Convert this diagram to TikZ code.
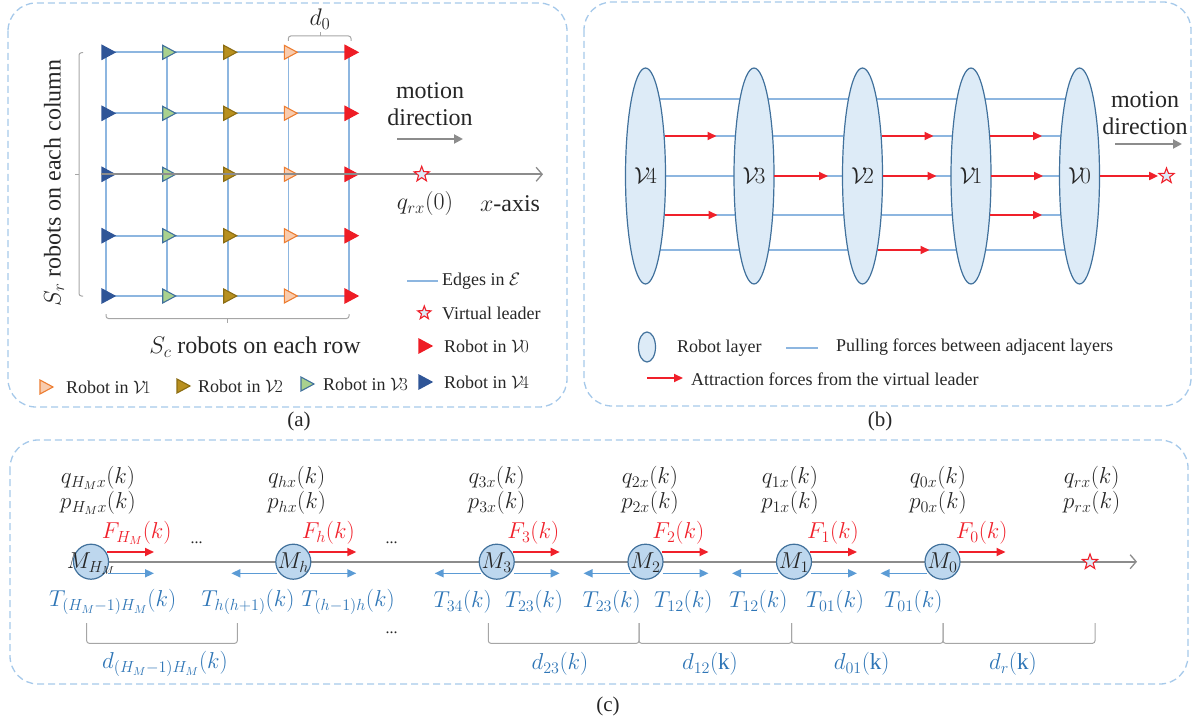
\RequirePackage{fix-cm}
\documentclass[tikz,border=0pt]{standalone}
\usepackage{fontspec}
\setmainfont{Liberation Serif}
\usetikzlibrary{shapes.geometric,arrows.meta,calc,backgrounds}
\definecolor{frame}{HTML}{A6C9EA}
\definecolor{edgec}{HTML}{8DB6E0}
\definecolor{layerfill}{HTML}{DDEBF7}
\definecolor{layerdraw}{HTML}{41719C}
\definecolor{circfill}{HTML}{BDD7EE}
\definecolor{tblue}{HTML}{2E75B6}
\definecolor{tarrow}{HTML}{5B9BD5}
\definecolor{fred}{HTML}{F0202A}
\definecolor{axisgray}{HTML}{8C8C8C}
\definecolor{brkgray}{HTML}{A6A6A6}
\definecolor{txt}{HTML}{262626}
\definecolor{czero}{HTML}{EE1C25}
\definecolor{conef}{HTML}{F8CBAD}
\definecolor{coned}{HTML}{ED7D31}
\definecolor{ctwof}{HTML}{B8901F}
\definecolor{ctwod}{HTML}{8C6D12}
\definecolor{cthreef}{HTML}{A9D18E}
\definecolor{cfour}{HTML}{2F5597}
\begin{document}
\begin{tikzpicture}[x=1pt,y=-1pt,
  panelbox/.style={draw=frame, line width=1.3pt, dash pattern=on 7pt off 4pt, rounded corners=28pt},
  gridedge/.style={draw=edgec, line width=1.6pt},
  bigtext/.style={font=\fontsize{24}{27}\selectfont, text=txt, inner sep=0pt},
  legtext/.style={font=\fontsize{18}{21}\selectfont, text=txt, anchor=west, inner sep=0pt},
  lbl/.style={font=\fontsize{23}{26}\selectfont, text=txt, inner sep=0pt},
  flbl/.style={font=\fontsize{23}{26}\selectfont, text=fred, inner sep=0pt},
  tlbl/.style={font=\fontsize{23}{26}\selectfont, text=tblue, inner sep=0pt},
  subcap/.style={font=\fontsize{21}{24}\selectfont, text=txt, inner sep=0pt},
  brk/.style={draw=brkgray, line width=1pt, rounded corners=2.5pt},
  axisline/.style={draw=axisgray, line width=1.6pt, -{Straight Barb[length=6pt,width=14pt,line width=1.3pt]}},
  mdarrow/.style={draw=axisgray, line width=2pt, -{Triangle[length=9pt,width=9pt]}},
  redarrow/.style={draw=fred, line width=1.8pt, -{Triangle[length=9pt,width=8pt]}},
  bluearrow/.style={draw=tarrow, line width=1.6pt, -{Triangle[length=9pt,width=8pt]}},
  layer/.style={ellipse, draw=layerdraw, fill=layerfill, line width=1.2pt, minimum width=40pt, minimum height=216pt, inner sep=0pt, font=\fontsize{23}{25}\selectfont, text=txt},
  vleader/.style={star, star points=5, star point ratio=2.4, minimum size=16pt, inner sep=0pt, draw=fred, fill=layerfill, line width=1.1pt},
  mass/.style={circle, draw=layerdraw, fill=circfill, line width=1.2pt, minimum size=35pt, inner sep=0pt},
  tzero/.style={fill=czero, draw=czero},
  tone/.style={fill=conef, draw=coned},
  ttwo/.style={fill=ctwof, draw=ctwod},
  tthree/.style={fill=cthreef, draw=layerdraw},
  tfour/.style={fill=cfour, draw=cfour},
  tri/.pic={\path[pic actions, line width=1.1pt, line join=miter] (-4,-7) -- (9,0) -- (-4,7) -- cycle;}
]
\useasboundingbox (0,0) rectangle (1196,722);

% ---------- panels ----------
\draw[panelbox] (8,3) rectangle (567,407);
\draw[panelbox] (584,2) rectangle (1191,406);
\draw[panelbox] (10,440) rectangle (1188,684);
\node[subcap] (capa) at (299,421) {(a)};
\node[subcap] (capb) at (880,421) {(b)};
\node[subcap] (capc) at (608,706) {(c)};

% ---------- panel (a) ----------
\foreach \x [count=\i] in {106,166.7,227.7,288.3,349} {
  \foreach \y [count=\j] in {52.3,113.3,174.3,235.7,296} {
    \coordinate (g\i\j) at (\x,\y);
  }
}
\foreach \j in {1,...,5} { \draw[gridedge] (g1\j) -- (g5\j); }
\foreach \i in {1,...,5} { \draw[gridedge] (g\i1) -- (g\i5); }
\foreach \j in {1,...,5} {
  \pic[tfour] at (g1\j) {tri};
  \pic[tthree] at (g2\j) {tri};
  \pic[ttwo] at (g3\j) {tri};
  \pic[tone] at (g4\j) {tri};
  \pic[tzero] at (g5\j) {tri};
}
\coordinate (axs) at (101,174.3);
\coordinate (axe) at (543,174.3);
\draw[axisline] (axs) -- (axe);
\node[vleader] (ldra) at (421.7,174.3) {};
\node[bigtext] (qrx) at (425,204) {$q_{rx}(0)$};
\node[bigtext] (xax) at (510,204) {$x$-axis};
\node[bigtext, align=center] (mda) at (430,104) {motion\\direction};
\coordinate (mdas) at (397,139);
\coordinate (mdae) at (463,139);
\draw[mdarrow] (mdas) -- (mdae);

% brackets (a)
\draw[brk] (288.3,41) -- (288.3,36) -- (351,36) -- (351,41);
\draw[brk] (320,36) -- (320,32);
\node[bigtext] (dz) at (320,19) {$d_0$};
\draw[brk] (83,52.7) -- (79,52.7) -- (79,296) -- (83,296);
\draw[brk] (79,174.3) -- (75,174.3);
\node[bigtext, rotate=90] (sr) at (54,183) {$S_r$ robots on each column};
\draw[brk] (106,314) -- (106,318.5) -- (349,318.5) -- (349,314);
\draw[brk] (227.7,318.5) -- (227.7,323);
\node[bigtext] (sc) at (255,347) {$S_c$ robots on each row};

% legend (a)
\coordinate (ela) at (407,281);
\coordinate (elb) at (438,281);
\draw[gridedge] (ela) -- (elb);
\node[legtext] (le) at (442,281) {Edges in $\mathcal{E}$};
\node[vleader, minimum size=14pt] (lsa) at (424.3,313) {};
\node[legtext] (lv) at (442,313) {Virtual leader};
\pic[tzero] at (423,346) {tri};
\node[legtext] (l0) at (444,346) {Robot in $\mathcal{V}\!0$};
\pic[tfour] at (423,382) {tri};
\node[legtext] (l4) at (444,382) {Robot in $\mathcal{V}\!4$};
\pic[tone] at (44,387) {tri};
\node[legtext] (l1) at (66,387) {Robot in $\mathcal{V}\!1$};
\pic[ttwo] at (181,386) {tri};
\node[legtext] (l2) at (198,386) {Robot in $\mathcal{V}\!2$};
\pic[tthree] at (305,384) {tri};
\node[legtext] (l3) at (323,384) {Robot in $\mathcal{V}\!3$};

% ---------- panel (b) ----------
\foreach \y [count=\k] in {99,136,176,215,250} { \coordinate (r\k) at (0,\y); }
\node[layer] (V4) at (645.5,176) {$\mathcal{V}\!4$};
\node[layer] (V3) at (754,176) {$\mathcal{V}\!3$};
\node[layer] (V2) at (862.5,176) {$\mathcal{V}\!2$};
\node[layer] (V1) at (971,176) {$\mathcal{V}\!1$};
\node[layer] (V0) at (1079.5,176) {$\mathcal{V}\!0$};
\begin{scope}[on background layer]
  \foreach \a/\b in {V4/V3,V3/V2,V2/V1,V1/V0} {
    \foreach \k in {1,...,5} { \draw[edgec, line width=1.2pt] (\a |- r\k) -- (\b |- r\k); }
  }
\end{scope}
\node[vleader] (ldrb) at (1166.5,176) {};
\draw[redarrow] ($(V4 |- r2)+(19,0)$) -- ++(52,0);
\draw[redarrow] ($(V4 |- r4)+(19,0)$) -- ++(53,0);
\draw[redarrow] ($(V3 |- r3)+(20,0)$) -- ++(54,0);
\draw[redarrow] ($(V2 |- r2)+(19,0)$) -- ++(52,0);
\draw[redarrow] ($(V2 |- r3)+(20,0)$) -- ++(54,0);
\draw[redarrow] ($(V2 |- r5)+(15,0)$) -- ++(52,0);
\draw[redarrow] ($(V1 |- r2)+(19,0)$) -- ++(52,0);
\draw[redarrow] ($(V1 |- r3)+(20,0)$) -- ++(52,0);
\draw[redarrow] ($(V1 |- r4)+(19,0)$) -- ++(52,0);
\draw[redarrow] (V0.east) -- ($(ldrb.west)+(-3,0)$);
\node[bigtext, align=center] (mdb) at (1145,113) {motion\\direction};
\coordinate (mdbs) at (1115,144);
\coordinate (mdbe) at (1182,144);
\draw[mdarrow] (mdbs) -- (mdbe);

% legend (b)
\node[ellipse, draw=layerdraw, fill=layerfill, line width=1.2pt, minimum width=17pt, minimum height=30pt, inner sep=0pt] (lel) at (647,347) {};
\node[legtext] (lrl) at (677,348) {Robot layer};
\coordinate (lpa) at (786,348);
\coordinate (lpb) at (818,348);
\draw[edgec, line width=1.4pt] (lpa) -- (lpb);
\node[legtext] (lpf) at (836,347) {Pulling forces between adjacent layers};
\coordinate (laa) at (647,378);
\coordinate (lab) at (683,378);
\draw[redarrow] (laa) -- (lab);
\node[legtext] (laf) at (691,379) {Attraction forces from the virtual leader};

% ---------- panel (c) ----------
\node[mass] (MH) at (91,561.7) {};
\node[mass] (Mh) at (293.3,561.7) {};
\node[mass] (M3) at (496.7,561.7) {};
\node[mass] (M2) at (645.5,561.7) {};
\node[mass] (M1) at (794,561.7) {};
\node[mass] (M0) at (942.5,561.7) {};
\coordinate (cxe) at (1137,561.7);
\begin{scope}[on background layer]
  \draw[axisline] (MH.center) -- (cxe);
\end{scope}
\node[vleader] (ldrc) at (1090,562) {};
\node[lbl] at ($(MH)+(0,2)$) {$M_{H_M}$};
\node[lbl] at ($(Mh)+(0,1)$) {$M_h$};
\node[lbl] at ($(M3)+(0,1)$) {$M_3$};
\node[lbl] at ($(M2)+(0,1)$) {$M_2$};
\node[lbl] at ($(M1)+(0,1)$) {$M_1$};
\node[lbl] at ($(M0)+(0,1)$) {$M_0$};

\foreach \n in {MH,Mh,M3,M2,M1,M0} { \draw[redarrow] ($(\n)+(16,-9.7)$) -- ++(47,0); }
\foreach \n in {MH,Mh,M3,M2,M1} { \draw[bluearrow] ($(\n)+(17,11.6)$) -- ++(46,0); }
\foreach \n in {Mh,M3,M2,M1,M0} { \draw[bluearrow] ($(\n)+(-16,11.6)$) -- ++(-46,0); }

% q, p labels
\foreach \x/\s in {98/{H_Mx},296.7/{hx},496.7/{3x},650/{2x},790/{1x},938/{0x},1091.7/{rx}} {
  \node[lbl] at (\x,478) {$q_{\s}(k)$};
  \node[lbl] at (\x,503) {$p_{\s}(k)$};
}
% F labels
\node[flbl] (fH) at (136.7,533) {$F_{H_M}(k)$};
\node[flbl] (fh) at (328.3,533) {$F_h(k)$};
\node[flbl] (f3) at (533.3,533) {$F_3(k)$};
\node[flbl] (f2) at (678.3,533) {$F_2(k)$};
\node[flbl] (f1) at (833,533) {$F_1(k)$};
\node[flbl] (f0) at (981.7,533) {$F_0(k)$};
% T labels
\node[tlbl] at (112.7,602) {$T_{(H_M-1)H_M}(k)$};
\node[tlbl] at (248,602) {$T_{h(h+1)}(k)$};
\node[tlbl] at (348,602) {$T_{(h-1)h}(k)$};
\node[tlbl] at (462.7,602) {$T_{34}(k)$};
\node[tlbl] at (534,602) {$T_{23}(k)$};
\node[tlbl] at (611.7,602) {$T_{23}(k)$};
\node[tlbl] at (683.3,602) {$T_{12}(k)$};
\node[tlbl] at (758.3,602) {$T_{12}(k)$};
\node[tlbl] at (835,602) {$T_{01}(k)$};
\node[tlbl] at (913.3,602) {$T_{01}(k)$};
% dots
\node[lbl, font=\fontsize{16}{18}\selectfont, anchor=base] at (196.7,543) {...};
\node[lbl, font=\fontsize{16}{18}\selectfont, anchor=base] at (391.7,543) {...};
\node[lbl, font=\fontsize{16}{18}\selectfont, anchor=base] at (391.7,633) {...};
% brackets (c)
\draw[brk] (86.7,623) -- (86.7,643.3) -- (237.3,643.3) -- (237.3,623);
\draw[brk] (488.3,623) -- (488.3,643.3) -- (639,643.3) -- (639,623);
\draw[brk] (639,623) -- (639,643.3) -- (791.7,643.3) -- (791.7,623);
\draw[brk] (791.7,623) -- (791.7,643.3) -- (943,643.3) -- (943,623);
\draw[brk] (943,623) -- (943,643.3) -- (1095,643.3) -- (1095,623);
\node[tlbl] at (165,664) {$d_{(H_M-1)H_M}(k)$};
\node[tlbl] at (560,664) {$d_{23}(k)$};
\node[tlbl] at (710,664) {$d_{12}(\mathrm{k})$};
\node[tlbl] at (861.7,664) {$d_{01}(\mathrm{k})$};
\node[tlbl] at (1013,664) {$d_{r}(\mathrm{k})$};
\end{tikzpicture}
\end{document}
